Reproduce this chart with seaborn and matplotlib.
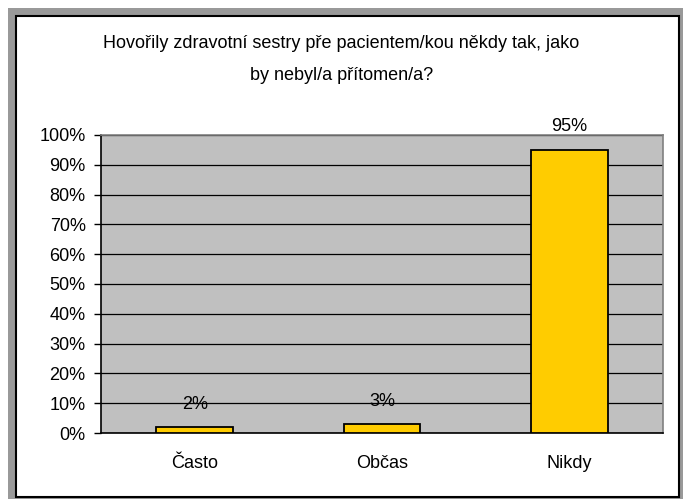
import matplotlib
matplotlib.use("Agg")
import matplotlib.pyplot as plt
import seaborn as sns
import pandas as pd
from matplotlib.patches import Rectangle

# data
categories = ["Často", "Občas", "Nikdy"]
values = [2, 3, 95]
labels = ["2%", "3%", "95%"]
title_lines = ["Hovořily zdravotní sestry pře pacientem/kou někdy tak, jako",
               "by nebyl/a přítomen/a?"]

sns.set_style("white")
plt.rcParams["font.family"] = ["Liberation Sans", "DejaVu Sans"]
plt.rcParams["text.color"] = "black"
plt.rcParams["xtick.color"] = "black"
plt.rcParams["ytick.color"] = "black"

FS = 13
W, H = 683, 499
fig = plt.figure(figsize=(W / 100, H / 100), dpi=100)

# outer frame: grey band plus black inner border
fig.patches.append(Rectangle((8 / W, 0), 1 - 8 / W, 1 - 8 / H, transform=fig.transFigure,
                             facecolor="#999999", edgecolor="none", zorder=0))
fig.patches.append(Rectangle((16 / W, 2 / H), 663 / W, 481 / H, transform=fig.transFigure,
                             facecolor="white", edgecolor="black", linewidth=1.5, zorder=1))

ax = fig.add_axes([101 / W, 1 - 433 / H, 562 / W, 298 / H])
ax.set_zorder(2)

df = pd.DataFrame({"cat": categories, "val": values})
sns.barplot(data=df, x="cat", y="val", ax=ax, color="#FFCC00", width=0.41,
            edgecolor="black", linewidth=1.3, saturation=1, zorder=3)

ax.set_facecolor("#C0C0C0")
ax.set_ylim(0, 100)
ax.set_xlim(-0.5, 2.5)
ax.set_yticks(range(0, 101, 10))
ax.set_yticklabels([f"{v}%" for v in range(0, 101, 10)], fontsize=FS)
ax.yaxis.grid(True, color="black", linewidth=0.9)
ax.set_axisbelow(True)

# category ticks between groups, labels centred
ax.set_xticks([0, 1, 2])
ax.set_xticklabels(categories, fontsize=FS)
ax.tick_params(axis="x", length=0, pad=15.5)
ax.set_xticks([0.5, 1.5, 2.5], minor=True)
ax.tick_params(axis="x", which="minor", length=5, width=1, color="black", direction="out")
ax.tick_params(axis="y", length=5, width=1, color="black", direction="out", pad=6, left=True)

ax.set_xlabel("")
ax.set_ylabel("")

for side in ["top", "right"]:
    ax.spines[side].set_color("#808080")
    ax.spines[side].set_linewidth(1.2)
for side in ["left", "bottom"]:
    ax.spines[side].set_color("black")
    ax.spines[side].set_linewidth(1.2)

for i, (v, lab) in enumerate(zip(values, labels)):
    ax.annotate(lab, (i, v), xytext=(0, 16.5), textcoords="offset points",
                ha="center", va="center", fontsize=FS, annotation_clip=False)

fig.text(341 / W, 1 - 44 / H, title_lines[0], ha="center", va="center", fontsize=FS)
fig.text(342 / W, 1 - 75 / H, title_lines[1], ha="center", va="center", fontsize=FS)

fig.savefig("out.png", dpi=100)
